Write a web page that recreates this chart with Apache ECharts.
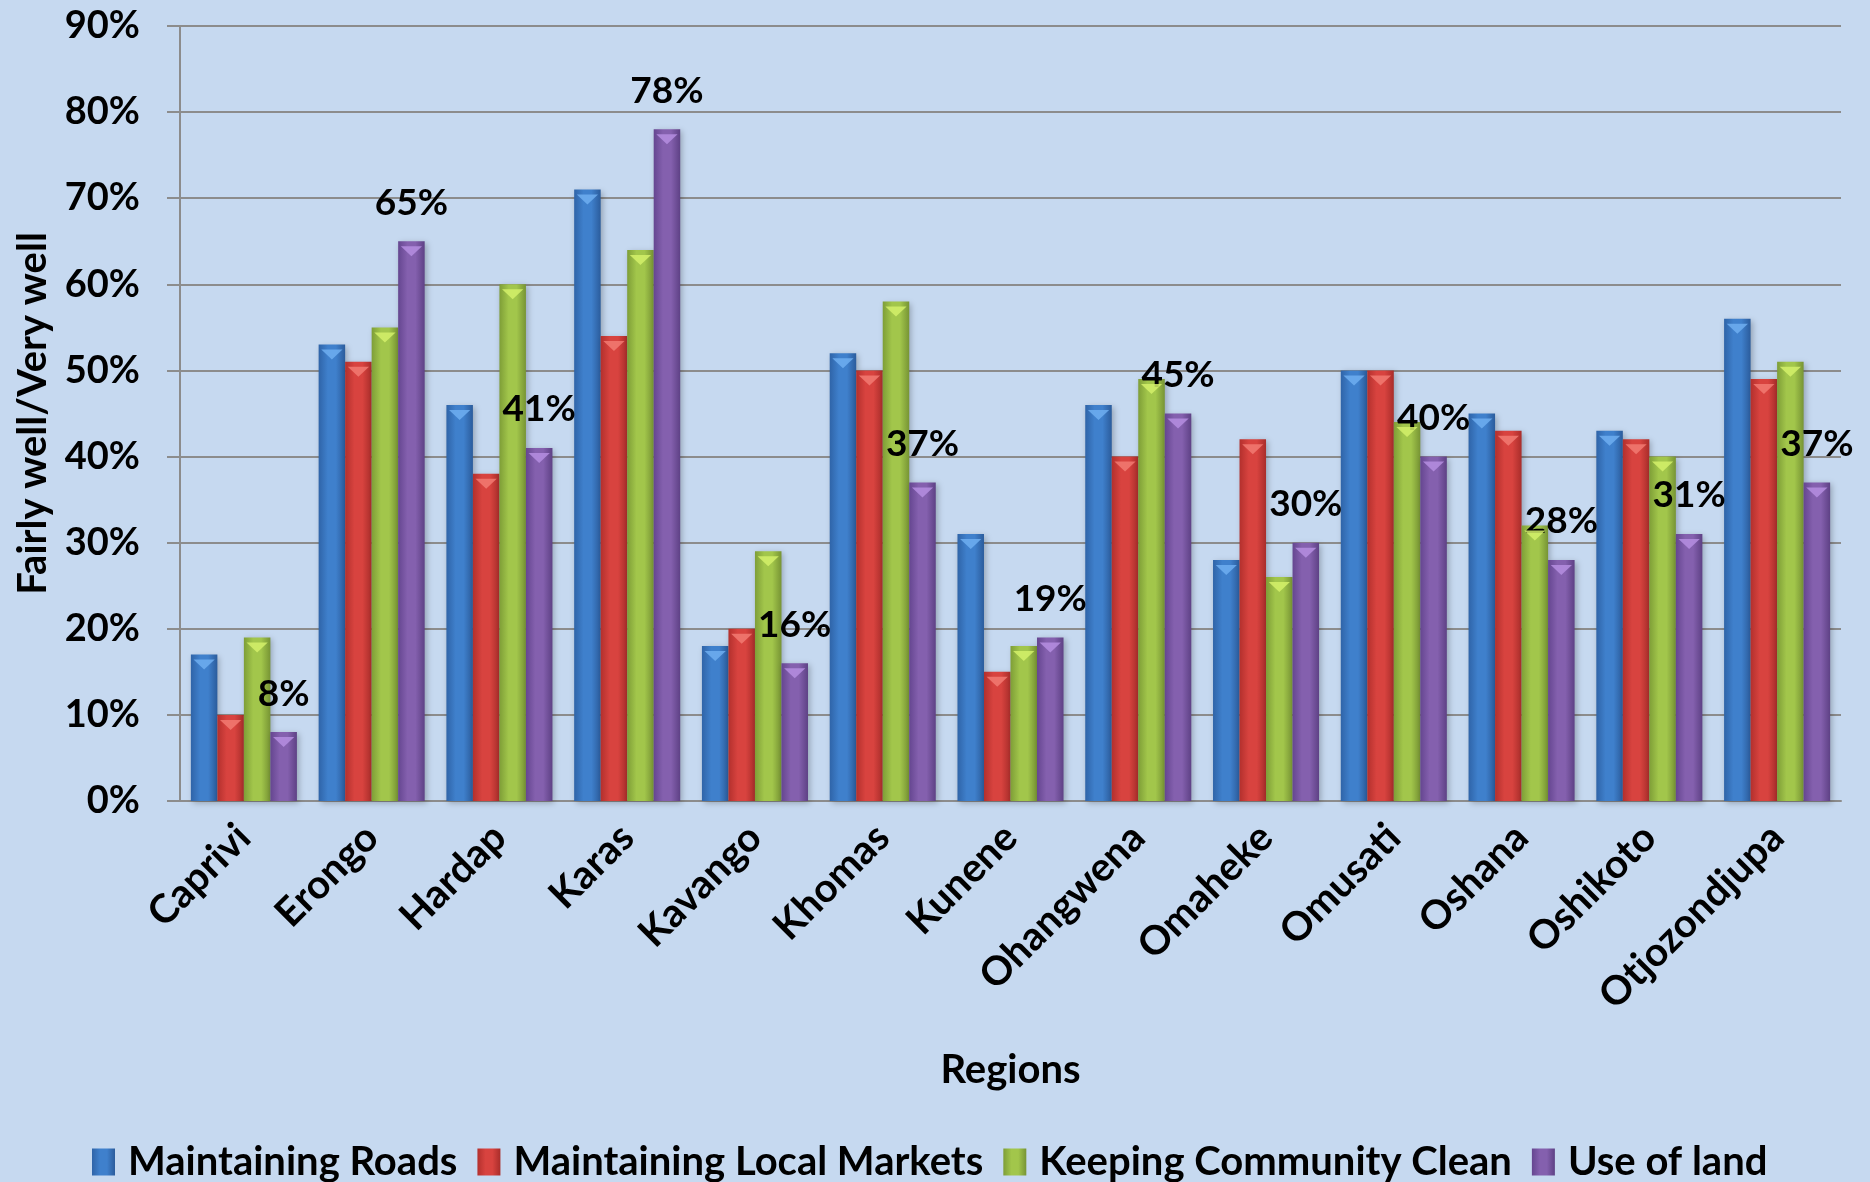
<!DOCTYPE html>
<html>
<head>
<meta charset="utf-8">
<script src="https://cdn.jsdelivr.net/npm/echarts@6/dist/echarts.min.js"></script>
<style>
html,body{margin:0;padding:0;background:#C6D9F0;}
#chart{width:1870px;height:1182px;}
</style>
</head>
<body>
<div id="chart"></div>
<script>
const categories = ['Caprivi','Erongo','Hardap','Karas','Kavango','Khomas','Kunene','Ohangwena','Omaheke','Omusati','Oshana','Oshikoto','Otjozondjupa'];
const maintainingRoads   = [17,53,46,71,18,52,31,46,28,50,45,43,56];
const maintainingMarkets = [10,51,38,54,20,50,15,40,42,50,43,42,49];
const keepingClean       = [19,55,60,64,29,58,18,49,26,44,32,40,51];
const useOfLand          = [8,65,41,78,16,37,19,45,30,40,28,31,37];
const seriesNames = ['Maintaining Roads','Maintaining Local Markets','Keeping Community Clean','Use of land'];
const yTicks = {min:0, max:90, interval:10};

const FONT = 'Lato';
function grad(edge, mid, edge2){
  return {type:'linear',x:0,y:0,x2:1,y2:0,colorStops:[
    {offset:0,color:edge},{offset:0.35,color:mid},{offset:0.65,color:mid},{offset:1,color:edge2}]};
}
const palette = [
  grad('#2F64A8','#3F80CC','#2B5C9C'),
  grad('#B3302D','#D8433F','#A92D2A'),
  grad('#7E9E37','#A2C64B','#779434'),
  grad('#654690','#8460AE','#5E4185')
];
const highlight = ['#6FAEF0','#F27A72','#D4F06A','#B58EE0'];
const legendColors = ['#3B78C2','#D0413D','#9BBF47','#7E5BA8'];

const chart = echarts.init(document.getElementById('chart'));
const dataSets = [maintainingRoads, maintainingMarkets, keepingClean, useOfLand];
const barSeries = dataSets.map((d,i)=>({
  name: seriesNames[i], type:'bar', data:d,
  barGap:'0%', barCategoryGap:'17%',
  itemStyle:{color:palette[i],shadowColor:'rgba(0,0,0,0.25)',shadowBlur:6,shadowOffsetX:2,shadowOffsetY:2},
  label: i===3 ? {show:true,position:'top',distance:20,formatter:'{c}%',fontFamily:FONT,fontWeight:'bold',fontSize:37,color:'#000'} : {show:false}
}));
const capSeries = dataSets.map((d,i)=>({
  name: seriesNames[i]+' cap', type:'pictorialBar', data:d,
  barGap:'0%', barCategoryGap:'17%',
  symbol:'triangle', symbolRotate:180, symbolPosition:'end',
  symbolSize:['80%',10], symbolOffset:[0,'50%'],
  itemStyle:{color:highlight[i],opacity:0.85},
  z:3, silent:true
}));
chart.setOption({
  backgroundColor:'#C6D9F0',
  animation:false,
  color: legendColors,
  grid:{left:180,right:29,top:26,bottom:381},
  legend:{
    top:1137, left:87,
    itemWidth:23, itemHeight:27, itemGap:20,
    textStyle:{fontFamily:FONT,fontWeight:'bold',fontSize:40,color:'#000',padding:[0,0,0,8]},
    data: seriesNames.map((n,i)=>({name:n,icon:'rect',itemStyle:{color:palette[i]}}))
  },
  xAxis:{
    type:'category', data:categories,
    name:'Regions', nameLocation:'middle', nameGap:249,
    nameTextStyle:{fontFamily:FONT,fontWeight:'bold',fontSize:40,color:'#000'},
    axisLine:{lineStyle:{color:'#8C8C8C',width:2}},
    axisTick:{show:false},
    axisLabel:{rotate:45,margin:30,fontFamily:FONT,fontWeight:'bold',fontSize:40,color:'#000',interval:0}
  },
  yAxis:{
    type:'value', min:yTicks.min, max:yTicks.max, interval:yTicks.interval,
    name:'Fairly well/Very well', nameLocation:'middle', nameGap:127,
    nameTextStyle:{fontFamily:FONT,fontWeight:'bold',fontSize:40,color:'#000'},
    axisLine:{show:true,lineStyle:{color:'#8C8C8C',width:2}},
    axisTick:{show:true,length:13,lineStyle:{color:'#8C8C8C',width:2}},
    splitLine:{lineStyle:{color:'#8C8C8C',width:2}},
    axisLabel:{formatter:'{value}%',margin:40,fontFamily:FONT,fontWeight:'bold',fontSize:38,color:'#000'}
  },
  series: barSeries.concat(capSeries)
});
</script>
</body>
</html>
